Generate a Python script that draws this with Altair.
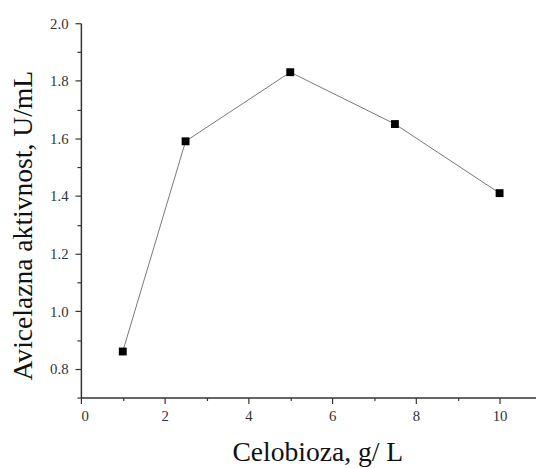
import altair as alt
import pandas as pd

celobioza = [1.0, 2.5, 5.0, 7.5, 10.0]
aktivnost = [0.86, 1.59, 1.83, 1.65, 1.41]

x_major = [0, 2, 4, 6, 8, 10]
x_minor = [1, 3, 5, 7, 9]
y_major = [0.8, 1.0, 1.2, 1.4, 1.6, 1.8, 2.0]
y_minor = [0.7, 0.9, 1.1, 1.3, 1.5, 1.7, 1.9]

df = pd.DataFrame({"x": celobioza, "y": aktivnost})

FONT = "Times New Roman, Liberation Serif, DejaVu Serif, serif"
AX = "#333333"

xs = alt.Scale(domain=[0, 10.87], nice=False, zero=False)
ys = alt.Scale(domain=[0.7, 2.0], nice=False, zero=False)

line = alt.Chart(df).mark_line(color="#777777", strokeWidth=1).encode(
    x=alt.X(
        "x:Q",
        scale=xs,
        axis=alt.Axis(
            orient="bottom",
            title="Celobioza, g/ L",
            values=x_major,
            grid=False,
            tickSize=6,
            labelPadding=5,
            labelOverlap=False,
            titleX=240,
            titleY=64,
            titleBaseline="alphabetic",
            titleAlign="center",
        ),
    ),
    y=alt.Y(
        "y:Q",
        scale=ys,
        axis=alt.Axis(
            orient="left",
            title="Avicelazna aktivnost, U/mL",
            values=y_major,
            format=".1f",
            grid=False,
            tickSize=6,
            labelPadding=7,
            labelOverlap=False,
            titleX=-50,
            titleY=205,
            titleBaseline="alphabetic",
            titleAlign="center",
            titleAngle=270,
        ),
    ),
)

pts = alt.Chart(df).mark_point(
    shape="square", filled=True, color="#000000", size=64, opacity=1
).encode(
    x=alt.X(
        "x:Q",
        scale=xs,
        axis=alt.Axis(
            orient="bottom", title=None, values=x_minor, labels=False,
            domain=False, grid=False, tickSize=3,
        ),
    ),
    y=alt.Y(
        "y:Q",
        scale=ys,
        axis=alt.Axis(
            orient="left", title=None, values=y_minor, labels=False,
            domain=False, grid=False, tickSize=4,
        ),
    ),
)

chart = (
    alt.layer(line, pts)
    .resolve_axis(x="independent", y="independent")
    .properties(
        width=462,
        height=380,
        autosize=alt.AutoSizeParams(type="none"),
        padding={"left": 74, "top": 12, "right": 0, "bottom": 68},
    )
    .configure_view(strokeWidth=0)
    .configure_axis(
        domainColor=AX,
        domainWidth=1.5,
        tickColor=AX,
        tickWidth=1.2,
        labelFont=FONT,
        labelFontSize=15,
        labelColor="#333333",
        titleFont=FONT,
        titleFontSize=28,
        titleFontWeight="normal",
        titleColor="#111111",
    )
)

chart.save("out.html", embed_options={"renderer": "svg", "actions": False})
